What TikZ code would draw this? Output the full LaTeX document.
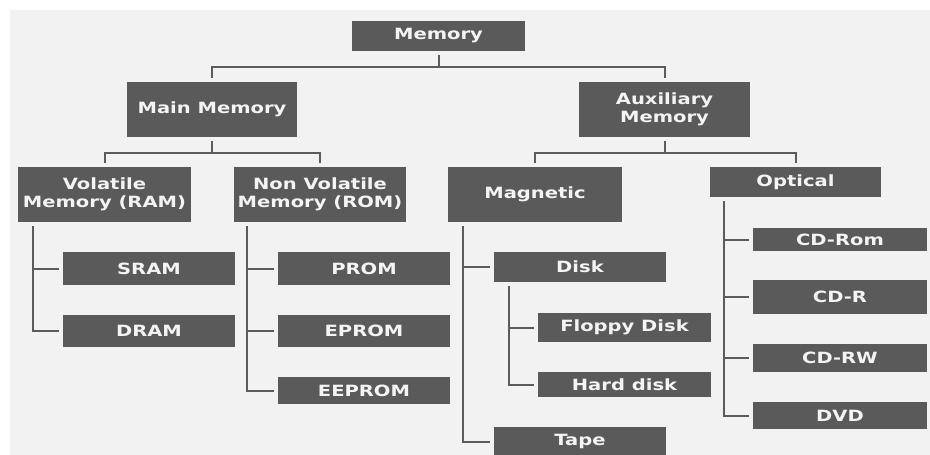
\documentclass[tikz,border=0pt]{standalone}
\usepackage{fontspec}
\newfontfamily\boxfont[FakeStretch=1.26]{DejaVu Sans Bold}
\usetikzlibrary{positioning}
\definecolor{panel}{HTML}{F2F2F2}
\definecolor{boxgray}{HTML}{5A5A5A}
\definecolor{linegray}{HTML}{5C5C5C}
\definecolor{labelwhite}{HTML}{F4F4F4}
\tikzset{
  box/.style={rectangle, fill=boxgray, draw=none, inner sep=0pt,
    text=labelwhite, align=center,
    font=\boxfont\fontsize{15.5}{18}\selectfont},
  conn/.style={draw=linegray, line width=2pt, shorten <=4pt, shorten >=4pt},
}
% box placed by its pixel extent: left, top, right, bottom
\newcommand{\pbox}[6]{%
  \node[box, minimum width={#4-#2}, minimum height={#5-#3}]
    (#1) at ({(#2+#4)/2},{(#3+#5)/2}) {#6};}
\begin{document}
\begin{tikzpicture}[x=1pt,y=-1pt]
  \useasboundingbox (0,0) rectangle (930,455);
  \fill[white] (0,0) rectangle (930,455);
  \fill[panel] (10,10) rectangle (930,455);

  % top levels
  \pbox{mem}{352}{21}{525}{51}{Memory}
  \pbox{main}{127}{82}{297}{137}{Main Memory}
  \pbox{aux}{579}{82}{750}{137}{Auxiliary\\Memory}

  \pbox{vol}{18}{167}{191}{222}{Volatile\\Memory (RAM)}
  \pbox{nonvol}{234}{167}{406}{222}{Non Volatile\\Memory (ROM)}
  \pbox{mag}{448}{167}{622}{222}{Magnetic}
  \pbox{opt}{710}{167}{881}{197}{Optical}

  % leaves of main memory
  \pbox{sram}{63}{252}{235}{285}{SRAM}
  \pbox{dram}{63}{315}{235}{347}{DRAM}
  \pbox{prom}{278}{252}{450}{285}{PROM}
  \pbox{eprom}{278}{315}{450}{347}{EPROM}
  \pbox{eeprom}{278}{377}{450}{404}{EEPROM}

  % magnetic storage
  \pbox{disk}{494}{252}{666}{282}{Disk}
  \pbox{floppy}{538}{313}{711}{342}{Floppy Disk}
  \pbox{hard}{538}{372}{711}{397}{Hard disk}
  \pbox{tape}{494}{427}{666}{456}{Tape}

  % optical storage
  \pbox{cdrom}{753}{228}{927}{251}{CD-Rom}
  \pbox{cdr}{753}{280}{927}{314}{CD-R}
  \pbox{cdrw}{753}{344}{927}{372}{CD-RW}
  \pbox{dvd}{753}{402}{927}{429}{DVD}

  % elbow connectors between levels
  \draw[conn] (mem.south) -- ++(0,16) -| (main.north);
  \draw[conn] (mem.south) -- ++(0,16) -| (aux.north);
  \draw[conn] (main.south) -- ++(0,16) -| (vol.north);
  \draw[conn] (main.south) -- ++(0,16) -| (nonvol.north);
  \draw[conn] (aux.south) -- ++(0,16) -| (mag.north);
  \draw[conn] (aux.south) -- ++(0,16) -| (opt.north);

  % side trunks to the leaves
  \draw[conn] ([xshift=15pt]vol.south west) |- (sram.west);
  \draw[conn] ([xshift=15pt]vol.south west) |- (dram.west);
  \draw[conn] ([xshift=13pt]nonvol.south west) |- (prom.west);
  \draw[conn] ([xshift=13pt]nonvol.south west) |- (eprom.west);
  \draw[conn] ([xshift=13pt]nonvol.south west) |- (eeprom.west);
  \draw[conn] ([xshift=15pt]mag.south west) |- (disk.west);
  \draw[conn] ([xshift=15pt]mag.south west) |- (tape.west);
  \draw[conn] ([xshift=15pt]disk.south west) |- (floppy.west);
  \draw[conn] ([xshift=15pt]disk.south west) |- (hard.west);
  \draw[conn] ([xshift=14pt]opt.south west) |- (cdrom.west);
  \draw[conn] ([xshift=14pt]opt.south west) |- (cdr.west);
  \draw[conn] ([xshift=14pt]opt.south west) |- (cdrw.west);
  \draw[conn] ([xshift=14pt]opt.south west) |- (dvd.west);
\end{tikzpicture}
\end{document}
